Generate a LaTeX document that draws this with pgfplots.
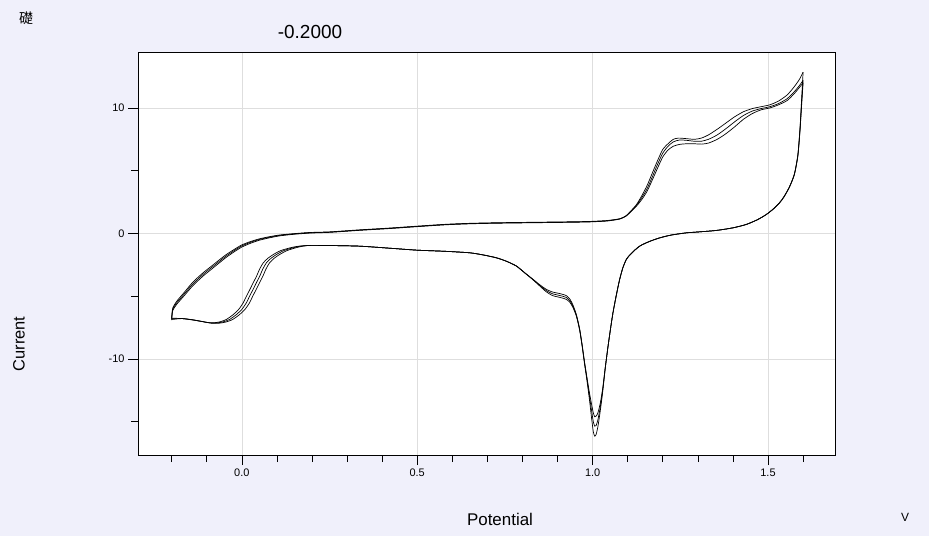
\documentclass[border=0pt]{standalone}
\usepackage{fontspec}
\setmainfont{Liberation Sans}
\newfontfamily\cjk{Noto Sans CJK JP}
\usepackage{pgfplots}
\pgfplotsset{compat=1.18}
\definecolor{bgpanel}{RGB}{240,240,251}
\definecolor{gridgray}{RGB}{222,222,222}
\pgfplotsset{cv/.style={black,mark=none,line width=0.7pt,smooth,tension=0.4}}

\begin{document}
\begin{tikzpicture}
\useasboundingbox (0,0) rectangle (929bp,-536bp);
\fill[bgpanel] (0,0) rectangle (929bp,-536bp);
\begin{axis}[at={(138bp,-455bp)},anchor=south west,
  scale only axis,width=697bp,height=403bp,
  xmin=-0.296,xmax=1.691,ymin=-17.65,ymax=14.46,
  axis background/.style={fill=white},
  axis line style={black,line width=0.9pt},
  xtick={0,0.5,1,1.5},
  minor xtick={-0.2,-0.1,0.1,0.2,0.3,0.4,0.6,0.7,0.8,0.9,1.1,1.2,1.3,1.4,1.6},
  ytick={-10,0,10},minor ytick={-15,-5,5},
  tick align=outside,tick pos=left,
  major tick length=10bp,minor tick length=7bp,
  tick style={black,line width=0.6pt},
  xmajorgrids,ymajorgrids,
  major grid style={gridgray,line width=0.6pt},
  /pgf/number format/assume math mode=true,
  xticklabel style={font=\fontsize{11}{11}\selectfont,
    /pgf/number format/fixed,/pgf/number format/fixed zerofill,
    /pgf/number format/precision=1},
  yticklabel style={font=\fontsize{11}{11}\selectfont}]

% cycle 1 forward
\addplot[cv] coordinates {
(-0.200,-6.90)(-0.197,-6.15)(-0.185,-5.62)(-0.165,-4.98)(-0.139,-4.14)(-0.110,-3.38)
(-0.091,-2.95)(-0.065,-2.36)(-0.044,-1.89)(-0.020,-1.43)(0.000,-1.08)(0.025,-0.78)
(0.051,-0.53)(0.080,-0.34)(0.108,-0.19)(0.150,-0.06)(0.194,0.03)(0.251,0.09)
(0.336,0.25)(0.420,0.39)(0.498,0.54)(0.580,0.69)(0.650,0.77)(0.735,0.82)
(0.849,0.86)(0.934,0.89)(0.991,0.92)(1.040,0.99)(1.077,1.15)(1.095,1.40)
(1.110,1.82)(1.125,2.30)(1.140,3.00)(1.155,3.80)(1.170,4.80)(1.185,5.80)
(1.200,6.70)(1.215,7.15)(1.230,7.50)(1.245,7.60)(1.270,7.55)(1.290,7.50)
(1.310,7.60)(1.330,7.85)(1.355,8.30)(1.380,8.80)(1.405,9.30)(1.430,9.70)
(1.455,9.95)(1.480,10.10)(1.505,10.25)(1.530,10.55)(1.555,11.05)(1.575,11.70)
(1.590,12.30)(1.600,12.85)};
% cycle 2 forward
\addplot[cv] coordinates {
(-0.200,-6.80)(-0.197,-6.05)(-0.185,-5.50)(-0.165,-4.85)(-0.139,-4.00)(-0.110,-3.25)
(-0.091,-2.82)(-0.065,-2.24)(-0.044,-1.78)(-0.020,-1.33)(0.000,-0.99)(0.025,-0.70)
(0.051,-0.47)(0.080,-0.29)(0.108,-0.15)(0.150,-0.03)(0.194,0.06)(0.251,0.11)
(0.336,0.27)(0.420,0.41)(0.498,0.56)(0.580,0.71)(0.650,0.79)(0.735,0.84)
(0.849,0.88)(0.934,0.91)(0.991,0.94)(1.040,1.01)(1.077,1.16)(1.095,1.40)
(1.110,1.80)(1.125,2.25)(1.140,2.85)(1.155,3.55)(1.170,4.50)(1.185,5.50)
(1.200,6.40)(1.215,6.95)(1.230,7.30)(1.248,7.45)(1.268,7.42)(1.290,7.35)
(1.310,7.35)(1.330,7.50)(1.355,7.85)(1.380,8.35)(1.405,8.90)(1.430,9.40)
(1.455,9.75)(1.480,9.95)(1.505,10.10)(1.530,10.35)(1.555,10.75)(1.575,11.30)
(1.590,11.80)(1.600,12.20)};
% cycle 3 forward
\addplot[cv] coordinates {
(-0.200,-6.72)(-0.197,-5.95)(-0.185,-5.38)(-0.165,-4.72)(-0.139,-3.86)(-0.110,-3.12)
(-0.091,-2.70)(-0.065,-2.12)(-0.044,-1.67)(-0.020,-1.24)(0.000,-0.91)(0.025,-0.64)
(0.051,-0.42)(0.080,-0.25)(0.108,-0.12)(0.150,-0.01)(0.194,0.08)(0.251,0.13)
(0.336,0.29)(0.420,0.43)(0.498,0.58)(0.580,0.73)(0.650,0.81)(0.735,0.86)
(0.849,0.90)(0.934,0.93)(0.991,0.96)(1.040,1.03)(1.077,1.17)(1.095,1.38)
(1.110,1.76)(1.125,2.18)(1.140,2.70)(1.155,3.35)(1.170,4.25)(1.185,5.20)
(1.200,6.10)(1.215,6.65)(1.230,6.95)(1.248,7.10)(1.268,7.15)(1.290,7.15)
(1.310,7.12)(1.330,7.20)(1.355,7.50)(1.380,7.95)(1.405,8.50)(1.430,9.10)
(1.455,9.55)(1.480,9.85)(1.505,10.00)(1.530,10.25)(1.555,10.60)(1.575,11.15)
(1.590,11.65)(1.600,12.00)};

% cycle 1 return
\addplot[cv] coordinates {
(1.600,12.85)(1.596,10.80)(1.591,8.30)(1.585,6.25)(1.575,4.72)(1.561,3.70)
(1.545,2.90)(1.533,2.45)(1.515,1.95)(1.495,1.51)(1.470,1.10)(1.438,0.72)
(1.400,0.45)(1.352,0.24)(1.300,0.12)(1.267,0.05)(1.225,-0.12)(1.195,-0.32)
(1.170,-0.55)(1.150,-0.78)(1.134,-1.01)(1.118,-1.38)(1.105,-1.75)(1.096,-2.07)
(1.086,-2.75)(1.077,-3.67)(1.068,-4.85)(1.058,-6.32)(1.051,-7.60)(1.044,-8.98)
(1.036,-10.70)(1.029,-12.30)(1.022,-13.50)(1.015,-14.30)(1.010,-14.55)(1.006,-14.60)
(1.002,-14.30)(0.997,-13.60)(0.991,-12.70)(0.984,-11.50)(0.977,-10.25)(0.970,-8.85)
(0.963,-7.60)(0.954,-6.50)(0.944,-5.70)(0.935,-5.22)(0.925,-4.95)(0.912,-4.83)
(0.900,-4.75)(0.885,-4.66)(0.868,-4.45)(0.850,-4.10)(0.830,-3.65)(0.805,-3.10)
(0.783,-2.60)(0.755,-2.22)(0.726,-1.94)(0.690,-1.72)(0.650,-1.54)(0.580,-1.42)
(0.500,-1.33)(0.420,-1.17)(0.336,-1.01)(0.251,-0.96)(0.194,-0.95)(0.160,-1.02)
(0.138,-1.14)(0.111,-1.36)(0.090,-1.67)(0.074,-1.98)(0.061,-2.34)(0.051,-2.82)
(0.042,-3.40)(0.032,-3.95)(0.023,-4.46)(0.013,-5.00)(0.004,-5.52)(-0.009,-6.05)
(-0.024,-6.45)(-0.044,-6.85)(-0.060,-7.02)(-0.075,-7.10)(-0.095,-7.10)(-0.117,-7.00)
(-0.140,-6.88)(-0.170,-6.78)(-0.200,-6.85)};
% cycle 2 return
\addplot[cv] coordinates {
(1.600,12.20)(1.596,10.50)(1.591,8.20)(1.585,6.20)(1.575,4.70)(1.561,3.70)
(1.545,2.90)(1.533,2.45)(1.515,1.95)(1.495,1.51)(1.470,1.10)(1.438,0.72)
(1.400,0.45)(1.352,0.24)(1.300,0.12)(1.267,0.05)(1.225,-0.12)(1.195,-0.32)
(1.170,-0.55)(1.150,-0.78)(1.134,-1.01)(1.118,-1.38)(1.105,-1.75)(1.096,-2.07)
(1.086,-2.75)(1.077,-3.67)(1.068,-4.85)(1.058,-6.32)(1.051,-7.60)(1.044,-8.98)
(1.036,-10.70)(1.029,-12.40)(1.022,-13.80)(1.015,-14.85)(1.010,-15.30)(1.006,-15.35)
(1.002,-15.00)(0.997,-14.10)(0.991,-12.96)(0.984,-11.60)(0.977,-10.30)(0.970,-8.90)
(0.963,-7.65)(0.954,-6.55)(0.944,-5.79)(0.935,-5.35)(0.925,-5.10)(0.912,-4.98)
(0.900,-4.90)(0.885,-4.80)(0.868,-4.55)(0.850,-4.15)(0.830,-3.67)(0.805,-3.10)
(0.783,-2.60)(0.755,-2.22)(0.726,-1.94)(0.690,-1.72)(0.650,-1.54)(0.580,-1.42)
(0.500,-1.33)(0.420,-1.17)(0.336,-1.01)(0.251,-0.96)(0.194,-0.95)(0.165,-1.02)
(0.146,-1.14)(0.120,-1.36)(0.099,-1.67)(0.083,-1.98)(0.070,-2.34)(0.060,-2.82)
(0.051,-3.40)(0.041,-3.95)(0.032,-4.46)(0.022,-5.00)(0.013,-5.52)(0.000,-6.05)
(-0.015,-6.45)(-0.035,-6.85)(-0.053,-7.04)(-0.070,-7.12)(-0.091,-7.12)(-0.115,-7.00)
(-0.139,-6.88)(-0.170,-6.78)(-0.200,-6.80)};
% cycle 3 return
\addplot[cv] coordinates {
(1.600,12.00)(1.596,10.30)(1.591,8.10)(1.585,6.15)(1.575,4.68)(1.561,3.70)
(1.545,2.90)(1.533,2.45)(1.515,1.95)(1.495,1.51)(1.470,1.10)(1.438,0.72)
(1.400,0.45)(1.352,0.24)(1.300,0.12)(1.267,0.05)(1.225,-0.12)(1.195,-0.32)
(1.170,-0.55)(1.150,-0.78)(1.134,-1.01)(1.118,-1.38)(1.105,-1.75)(1.096,-2.07)
(1.086,-2.75)(1.077,-3.67)(1.068,-4.85)(1.058,-6.32)(1.051,-7.60)(1.044,-8.98)
(1.036,-10.75)(1.029,-12.55)(1.022,-14.10)(1.015,-15.40)(1.010,-16.00)(1.006,-16.15)
(1.002,-15.80)(0.997,-14.70)(0.991,-13.25)(0.984,-11.75)(0.977,-10.40)(0.970,-8.95)
(0.963,-7.70)(0.954,-6.62)(0.944,-5.90)(0.935,-5.48)(0.925,-5.25)(0.912,-5.13)
(0.900,-5.05)(0.885,-4.94)(0.868,-4.65)(0.850,-4.20)(0.830,-3.69)(0.805,-3.10)
(0.783,-2.60)(0.755,-2.22)(0.726,-1.94)(0.690,-1.72)(0.650,-1.54)(0.580,-1.42)
(0.500,-1.33)(0.420,-1.17)(0.336,-1.01)(0.251,-0.96)(0.194,-0.95)(0.172,-1.02)
(0.154,-1.14)(0.129,-1.36)(0.108,-1.67)(0.092,-1.98)(0.079,-2.34)(0.069,-2.82)
(0.060,-3.40)(0.050,-3.95)(0.041,-4.46)(0.031,-5.00)(0.022,-5.52)(0.009,-6.05)
(-0.006,-6.45)(-0.026,-6.85)(-0.046,-7.06)(-0.065,-7.15)(-0.087,-7.15)(-0.112,-7.02)
(-0.138,-6.90)(-0.170,-6.78)(-0.200,-6.75)};
\end{axis}
\node at (26bp,-18bp) {\cjk\fontsize{14}{14}\selectfont 礎};
\node at (310bp,-31.5bp) {\fontsize{19}{19}\selectfont -0.2000};
\node[rotate=90] at (19bp,-344bp) {\fontsize{16.5}{16.5}\selectfont Current};
\node at (500bp,-519bp) {\fontsize{17}{17}\selectfont Potential};
\node at (905bp,-517bp) {\fontsize{12}{12}\selectfont V};
\end{tikzpicture}
\end{document}
